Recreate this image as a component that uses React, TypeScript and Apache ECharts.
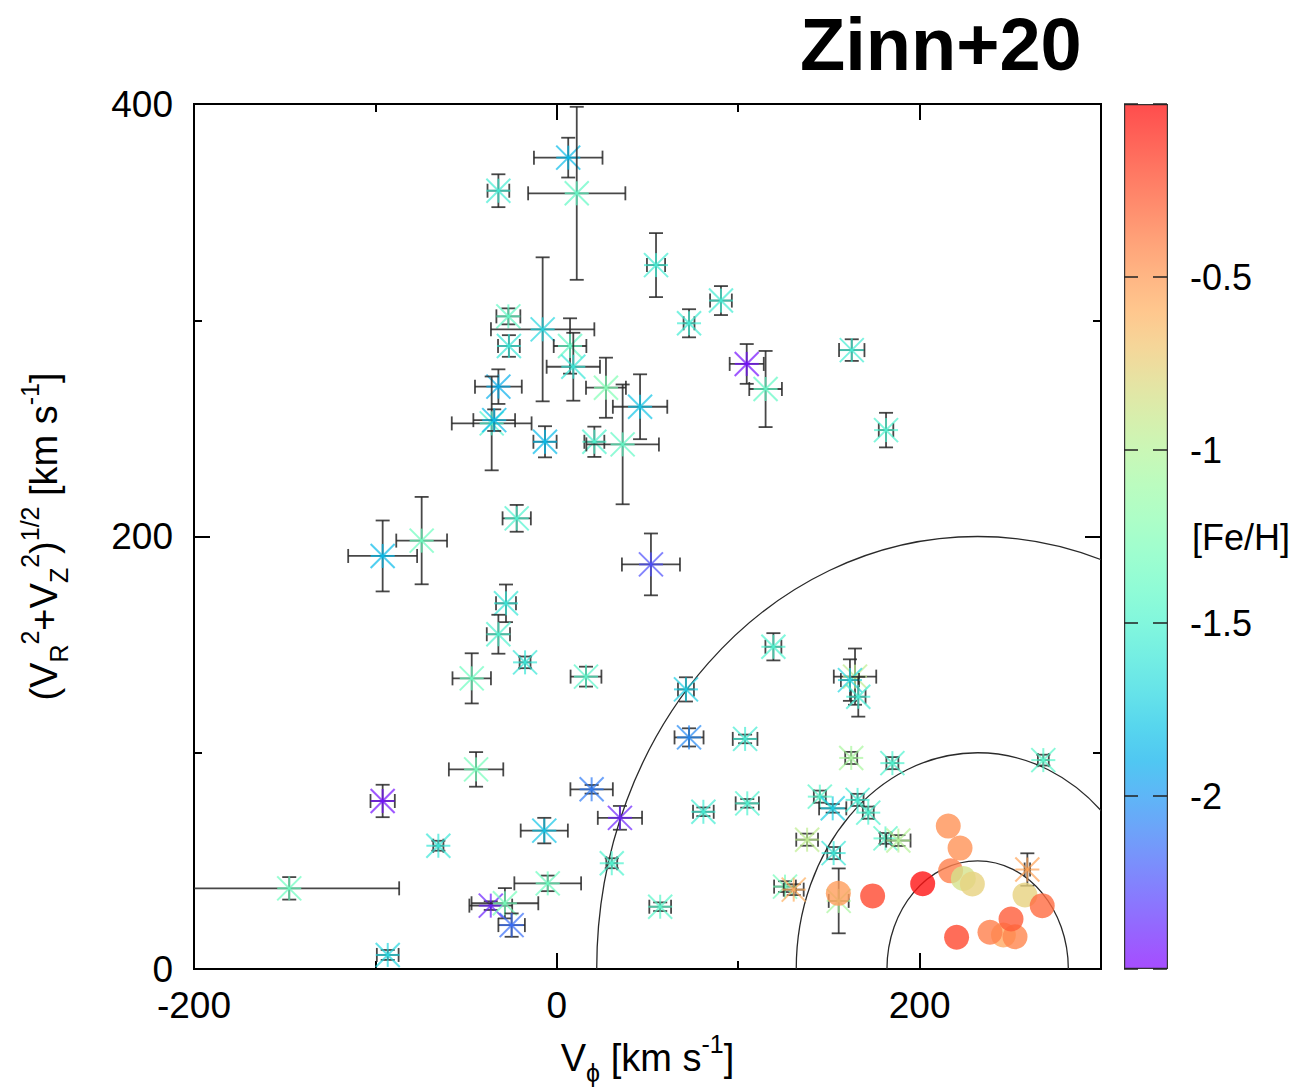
import React, { useEffect, useRef } from "react";
import * as echarts from "echarts";

const FONT = "'Liberation Sans', Arial, Helvetica, sans-serif";

// Halo stars with error bars
const starVphi = [
  6.3, 11.0, -32.2, 54.7, -26.7, -7.8, -26.4, 7.3, 9.1, 27.1, -32.2, 45.9,
  72.9, 90.5, 104.7, 115.1, 162.6, 181.5, -35.9, -34.5, -6.5, 20.7, 36.3,
  -22.1, -96, -74.5, 51.9, -28, -32.2, -17.5, -46.9, 16.1, 119.4, 71.2,
  164.4, 161.6, 166.2, -96, -44.5, -65.3, -147.5, -93.2, 19.2, -6.9, 34.8,
  30.3, -5, -36.4, -28.6, -24.9, 57, 72.9, 103.8, 80.8, 105, 162.3, 185,
  268.2, 145, 152.1, 165.8, 171.7, 181.2, 188.3, 138, 152.6, 125.8, 130.6,
  155.4, 259.4,
];
const starVperp = [
  375.2, 358.7, 359.9, 325.5, 301.8, 295.8, 288.1, 288.1, 278.5, 268.8,
  269.3, 260.0, 298.6, 309.1, 279.8, 268.2, 286.2, 249.2, 252.3, 253.8,
  243.8, 243.8, 242.6, 208.4, 191, 198.1, 187.1, 169.1, 154.8, 141.8, 134.4,
  135.2, 149.0, 129.3, 135.2, 133.6, 125.9, 77.7, 92.3, 57.0, 37.3, 6.5,
  83.1, 64.0, 69.9, 48.9, 39.6, 29.3, 30.4, 20.3, 28.8, 107.1, 106.4, 72.7,
  76.6, 97.6, 95.2, 96.6, 79.7, 74.3, 78.2, 72.3, 60.4, 59.4, 59.8, 53.6,
  38.1, 36.7, 31.5, 46,
];
const starErrVphi = [
  18.9, 26.8, 6, 5, 6.6, 28.5, 6, 9, 14.7, 11, 12.9, 15, 3, 6, 9.4, 9, 7, 4,
  22, 11.5, 6.4, 5.5, 20, 7.8, 19, 14, 16, 5.5, 6.4, 3, 10.6, 8.5, 4.4, 4.4,
  11.7, 5, 4, 6.7, 15, 2.8, 60.6, 6, 11.7, 13, 12.2, 3, 18.4, 11.8, 18.4, 7.3,
  6, 8, 6.8, 5.7, 6.4, 3.3, 3.3, 3, 3.3, 7.5, 3.3, 3, 3, 6.7, 6, 3.5, 6, 5.5,
  5.5, 1.5,
];
const starErrVperp = [
  9.2, 40, 7.6, 14.8, 3.7, 33.3, 5, 12.8, 15.7, 13.9, 8, 15, 6.5, 6.7, 9.2,
  17.6, 5, 8, 21.7, 5, 7.2, 7, 27.7, 6.2, 16.4, 20.2, 14.3, 8.7, 9, 2.7, 11.6,
  4.6, 6.3, 5.6, 13, 9.6, 9.2, 7.5, 8, 2.3, 5.2, 2.3, 2, 5.9, 5.5, 2.3, 3.6,
  2, 7, 5.4, 2, 4.2, 2, 2, 2, 2.8, 2.8, 2.5, 2.8, 2, 2.8, 2.8, 2.5, 2.5, 2.8,
  2.8, 2.5, 2.5, 15, 7.5,
];
const starFeH = [
  -1.85, -1.4, -1.55, -1.55, -1.4, -1.7, -1.6, -1.4, -1.6, -1.25, -1.9, -1.8,
  -1.55, -1.55, -2.45, -1.4, -1.55, -1.5, -1.5, -1.85, -1.85, -1.5, -1.4,
  -1.5, -1.85, -1.35, -2.25, -1.6, -1.5, -1.6, -1.35, -1.45, -1.5, -1.75,
  -0.95, -1.7, -1.55, -2.45, -1.3, -1.6, -1.35, -1.7, -2.1, -1.8, -2.4, -1.5,
  -1.35, -2.4, -1.3, -2.15, -1.45, -2.05, -1.55, -1.55, -1.5, -1.05, -1.5,
  -1.45, -1.45, -1.75, -1.55, -1.5, -1.45, -1.0, -0.95, -1.6, -1.3, -0.6,
  -1.05, -0.55,
];

// Disk stars drawn as filled circles
const diskVphi = [
  215.8, 222.3, 217.1, 224.1, 229.1, 201.7, 174.1, 155.2, 258.1, 267.6,
  246.2, 238.8, 252.6, 250.4, 220.4,
];
const diskVperp = [
  66.1, 55.9, 45.4, 41.9, 39.3, 39.4, 33.8, 35.0, 34.2, 29.3, 15.7, 17.0,
  14.9, 23.1, 14.7,
];
const diskFeH = [
  -0.45, -0.45, -0.375, -0.85, -0.75, 0, -0.18, -0.5, -0.75, -0.3, -0.55,
  -0.375, -0.4, -0.25, -0.18,
];

// Constant total-velocity curves around the LSR: centre and radii
const lsrVphi = 232;
const curveRadiusX = [50, 100, 210];
const curveRadiusY = [50, 100, 200];

// Axis ticks and labels
const xTickLabels = [-200, 0, 200];
const yTickLabels = [0, 200, 400];
const cbarTickLabels = [-0.5, -1, -1.5, -2];
const FEH_MIN = -2.5;
const FEH_MAX = 0;

function rainbowRGB(feh: number): [number, number, number] {
  const t = Math.min(1, Math.max(0, (feh - FEH_MIN) / (FEH_MAX - FEH_MIN)));
  const r = Math.min(1, Math.abs(2 * t - 0.5));
  const g = Math.sin(Math.PI * t);
  const b = Math.cos((Math.PI * t) / 2);
  return [Math.round(r * 255), Math.round(g * 255), Math.round(b * 255)];
}

function tint(rgb: [number, number, number], alpha: number): string {
  const m = (c: number) => Math.round(255 * (1 - alpha) + c * alpha);
  return `rgb(${m(rgb[0])},${m(rgb[1])},${m(rgb[2])})`;
}

const starData = starVphi.map((v, i) => [
  v,
  starVperp[i],
  starErrVphi[i],
  starErrVperp[i],
  starFeH[i],
]);

const diskData = diskVphi.map((v, i) => ({
  value: [v, diskVperp[i], diskFeH[i]],
  itemStyle: { color: tint(rainbowRGB(diskFeH[i]), 0.92) },
}));

const curveData = curveRadiusX.map((rx, i) => [lsrVphi, 0, rx, curveRadiusY[i]]);

const cbarStops = Array.from({ length: 26 }, (_, i) => {
  const f = FEH_MAX - (i / 25) * (FEH_MAX - FEH_MIN);
  return { offset: i / 25, color: tint(rainbowRGB(f), 0.7) };
});

const tickLine = { color: "#000", width: 2 };
const labelStyle = { fontFamily: FONT, fontSize: 37, lineHeight: 28, color: "#000" };
const rich = {
  n: { fontFamily: FONT, fontSize: 38, lineHeight: 54, verticalAlign: "middle", color: "#000" },
  sub: { fontFamily: FONT, fontSize: 25, lineHeight: 25, verticalAlign: "bottom", color: "#000" },
  sup: { fontFamily: FONT, fontSize: 25, lineHeight: 25, verticalAlign: "top", color: "#000" },
};

function mainAxis(position: string, interval: number, tickLen: number, extra: any = {}) {
  const isX = position === "bottom" || position === "top";
  return {
    gridIndex: 0,
    type: "value",
    position,
    min: isX ? -200 : 0,
    max: isX ? 300 : 400,
    interval,
    axisLine: { show: false, onZero: false },
    axisTick: { show: true, inside: true, length: tickLen, lineStyle: tickLine },
    axisLabel: { show: false },
    splitLine: { show: false },
    ...extra,
  };
}

function buildOption(): any {
  return {
    animation: false,
    backgroundColor: "#fff",
    grid: [
      { left: 194, top: 104, width: 907, height: 865, show: true, borderColor: "#000", borderWidth: 2, backgroundColor: "transparent" },
      { left: 1124, top: 104, width: 44, height: 865 },
    ],
    xAxis: [
      mainAxis("bottom", 200, 16, {
        axisLabel: {
          show: true,
          margin: 22,
          ...labelStyle,
          formatter: (v: number) => (xTickLabels.includes(v) ? String(v) : ""),
        },
        name: "{n|V}{sub|\u03d5}{n| [km s}{sup|-1}{n|]}",
        nameLocation: "middle",
        nameGap: 62,
        nameTextStyle: { fontFamily: FONT, fontSize: 38, color: "#000", rich },
      }),
      mainAxis("bottom", 100, 8),
      mainAxis("top", 200, 16),
      mainAxis("top", 100, 8),
      { gridIndex: 1, type: "category", data: ["[Fe/H]"], show: false },
    ],
    yAxis: [
      mainAxis("left", 200, 16, {
        axisLabel: {
          show: true,
          margin: 21,
          ...labelStyle,
          formatter: (v: number) => (yTickLabels.includes(v) ? String(v) : ""),
        },
        name: "{n|(V}{sub|R}{sup|2}{n|+V}{sub|Z}{sup|2}{n|)}{sup|1/2}{n| [km s}{sup|-1}{n|]}",
        nameLocation: "middle",
        nameRotate: 90,
        nameGap: 123,
        nameTextStyle: { fontFamily: FONT, fontSize: 38, color: "#000", rich },
      }),
      mainAxis("left", 100, 8),
      mainAxis("right", 200, 16),
      mainAxis("right", 100, 8),
      {
        gridIndex: 1,
        type: "value",
        position: "right",
        min: FEH_MIN,
        max: FEH_MAX,
        interval: 0.5,
        z: 10,
        axisLine: { show: false, onZero: false },
        axisTick: { show: false },
        splitLine: { show: true, lineStyle: { color: "#222", width: 1.5, type: [14, 15] } },
        axisLabel: {
          margin: 22,
          fontFamily: FONT,
          fontSize: 36,
          color: "#000",
          formatter: (v: number) => (cbarTickLabels.includes(v) ? String(v) : ""),
        },
      },
    ],
    graphic: [
      {
        type: "text",
        left: 800,
        top: 7,
        style: { text: "Zinn+20", fontFamily: FONT, fontSize: 74, fontWeight: "bold", fill: "#000" },
      },
      {
        type: "text",
        left: 1192,
        top: 519,
        style: { text: "[Fe/H]", fontFamily: FONT, fontSize: 36, fill: "#000" },
      },
    ],
    series: [
      {
        type: "bar",
        xAxisIndex: 4,
        yAxisIndex: 4,
        data: [FEH_MIN],
        barWidth: "100%",
        silent: true,
        itemStyle: {
          color: new echarts.graphic.LinearGradient(0, 0, 0, 1, cbarStops),
          borderColor: "#333",
          borderWidth: 1.2,
        },
      },
      {
        type: "custom",
        xAxisIndex: 0,
        yAxisIndex: 0,
        clip: true,
        silent: true,
        data: curveData,
        encode: { x: 0, y: 1 },
        renderItem: (_p: any, api: any) => {
          const c = api.coord([api.value(0), api.value(1)]);
          const s = api.size([api.value(2), api.value(3)]);
          return {
            type: "ellipse",
            shape: { cx: c[0], cy: c[1], rx: s[0], ry: s[1] },
            style: { fill: "none", stroke: "#2a2a2a", lineWidth: 1.3 },
          };
        },
      },
      {
        type: "scatter",
        xAxisIndex: 0,
        yAxisIndex: 0,
        symbol: "circle",
        symbolSize: 25,
        silent: true,
        data: diskData,
      },
      {
        type: "custom",
        xAxisIndex: 0,
        yAxisIndex: 0,
        clip: true,
        silent: true,
        data: starData,
        encode: { x: 0, y: 1 },
        renderItem: (_p: any, api: any) => {
          const vx = api.value(0);
          const vy = api.value(1);
          const ex = api.value(2);
          const ey = api.value(3);
          const feh = api.value(4);
          const [cx, cy] = api.coord([vx, vy]);
          const xl = api.coord([vx - ex, vy])[0];
          const xr = api.coord([vx + ex, vy])[0];
          const yt = api.coord([vx, vy + ey])[1];
          const yb = api.coord([vx, vy - ey])[1];
          const CAP = 7;
          const ARM = 12;
          const eb = { stroke: "rgba(40,40,40,0.85)", lineWidth: 1.8 };
          const [r, g, b] = rainbowRGB(feh);
          const st = { stroke: `rgba(${r},${g},${b},0.7)`, lineWidth: 2 };
          const seg = (x1: number, y1: number, x2: number, y2: number, style: any) => ({
            type: "line",
            shape: { x1, y1, x2, y2 },
            style,
          });
          return {
            type: "group",
            children: [
              seg(xl, cy, xr, cy, eb),
              seg(xl, cy - CAP, xl, cy + CAP, eb),
              seg(xr, cy - CAP, xr, cy + CAP, eb),
              seg(cx, yt, cx, yb, eb),
              seg(cx - CAP, yt, cx + CAP, yt, eb),
              seg(cx - CAP, yb, cx + CAP, yb, eb),
              seg(cx - ARM, cy, cx + ARM, cy, st),
              seg(cx, cy - ARM, cx, cy + ARM, st),
              seg(cx - ARM, cy - ARM, cx + ARM, cy + ARM, st),
              seg(cx - ARM, cy + ARM, cx + ARM, cy - ARM, st),
            ],
          };
        },
      },
    ],
  };
}

export default function App() {
  const ref = useRef<HTMLDivElement>(null);
  useEffect(() => {
    if (!ref.current) return;
    const chart = echarts.init(ref.current, null, { renderer: "svg" });
    chart.setOption(buildOption());
    return () => chart.dispose();
  }, []);
  return (
    <div
      ref={ref}
      style={{ position: "fixed", left: 0, top: 0, width: 1294, height: 1092, background: "#fff" }}
    />
  );
}
